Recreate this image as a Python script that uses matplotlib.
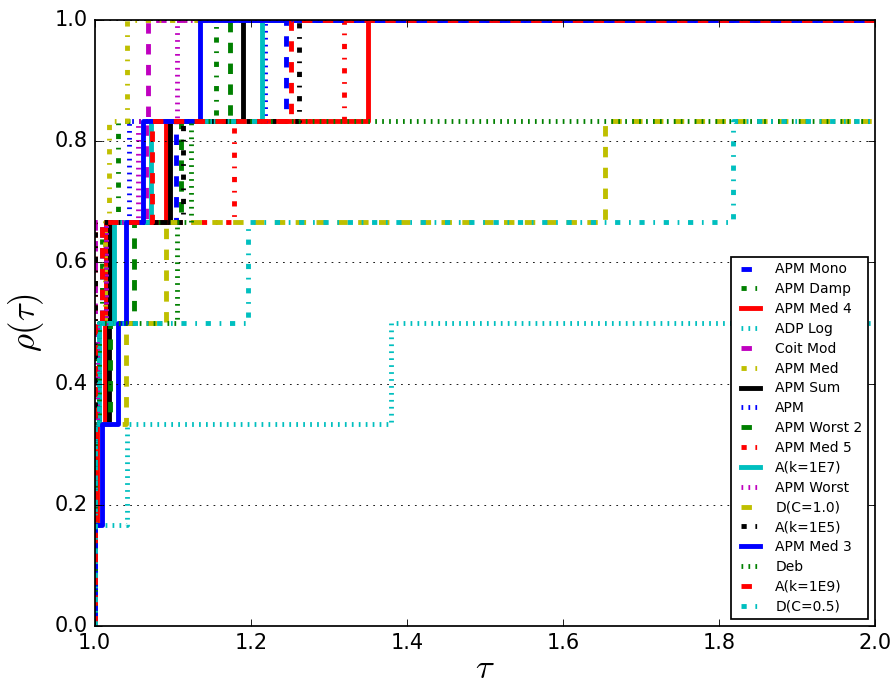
import numpy as np
import matplotlib
matplotlib.use('Agg')
import matplotlib.pyplot as plt

plt.style.use('classic')

inf = np.inf
n_prob = 6

# solver names in legend order
names = ['APM Mono', 'APM Damp', 'APM Med 4', 'ADP Log', 'Coit Mod', 'APM Med',
         'APM Sum', 'APM', 'APM Worst 2', 'APM Med 5', 'A(k=1E7)', 'APM Worst',
         'D(C=1.0)', 'A(k=1E5)', 'APM Med 3', 'Deb', 'A(k=1E9)', 'D(C=0.5)']

# performance ratios per solver (inf = not solved)
apm_mono = [1.0, 1.0, 1.005, 1.01, 1.104, 1.245]
apm_damp = [1.0, 1.0, 1.003, 1.01, 1.03, 1.155]
apm_med4 = [1.0, 1.003, 1.013, 1.015, 1.092, 1.35]
adp_log = [1.0, 1.041, 1.38, inf, inf, inf]
coit_mod = [1.0, 1.0, 1.0, 1.0, 1.066, 1.068]
apm_med = [1.0, 1.0, 1.0, 1.013, 1.019, 1.042]
apm_sum = [1.0, 1.0, 1.018, 1.02, 1.097, 1.19]
apm = [1.0, 1.0, 1.005, 1.015, 1.044, 1.218]
apm_worst2 = [1.0, 1.0, 1.02, 1.05, 1.11, 1.174]
apm_med5 = [1.0, 1.0, 1.0, 1.0, 1.178, 1.32]
a_k1e7 = [1.0, 1.0, 1.005, 1.025, 1.072, 1.214]
apm_worst = [1.0, 1.0, 1.003, 1.015, 1.056, 1.106]
d_c10 = [1.0, 1.0, 1.04, 1.091, 1.654, inf]
a_k1e5 = [1.0, 1.0, 1.0, 1.0, 1.113, 1.262]
apm_med3 = [1.0, 1.01, 1.03, 1.04, 1.062, 1.135]
deb = [1.0, 1.0, 1.005, 1.106, 1.124, inf]
a_k1e9 = [1.0, 1.0, 1.0, 1.01, 1.074, 1.251]
d_c05 = [1.0, 1.0, 1.005, 1.196, 1.818, inf]

ratios = [apm_mono, apm_damp, apm_med4, adp_log, coit_mod, apm_med, apm_sum, apm,
          apm_worst2, apm_med5, a_k1e7, apm_worst, d_c10, a_k1e5, apm_med3, deb,
          a_k1e9, d_c05]

colors = ['b', 'g', 'r', 'c', 'm', 'y', 'k']
styles = ['--', '-.', '-', ':']

fig = plt.figure(figsize=(893 / 125, 688 / 125), dpi=125)
ax = fig.add_axes([0.106, 0.09, 0.874, 0.881])

tau_max = 2.0
for i, (name, r) in enumerate(zip(names, ratios)):
    r = np.sort(np.array(r, dtype=float))
    r = r[np.isfinite(r)]
    x = np.concatenate([[1.0], r, [tau_max]])
    y = np.concatenate([[0.0], np.arange(1, len(r) + 1) / n_prob, [len(r) / n_prob]])
    ax.plot(x, y, drawstyle='steps-post', color=colors[i % 7],
            linestyle=styles[i % 4], linewidth=2.8, label=name)

ax.set_xlim(1.0, 2.0)
ax.set_ylim(0.0, 1.0)
ax.yaxis.grid(True)
ax.set_xlabel(r'$\tau$', fontsize=20, labelpad=-1)
ax.set_ylabel(r'$\rho(\tau)$', fontsize=20)
ax.legend(loc='lower right', prop={'size': 8}, labelspacing=0.42)

fig.savefig('out.png', dpi=125)
